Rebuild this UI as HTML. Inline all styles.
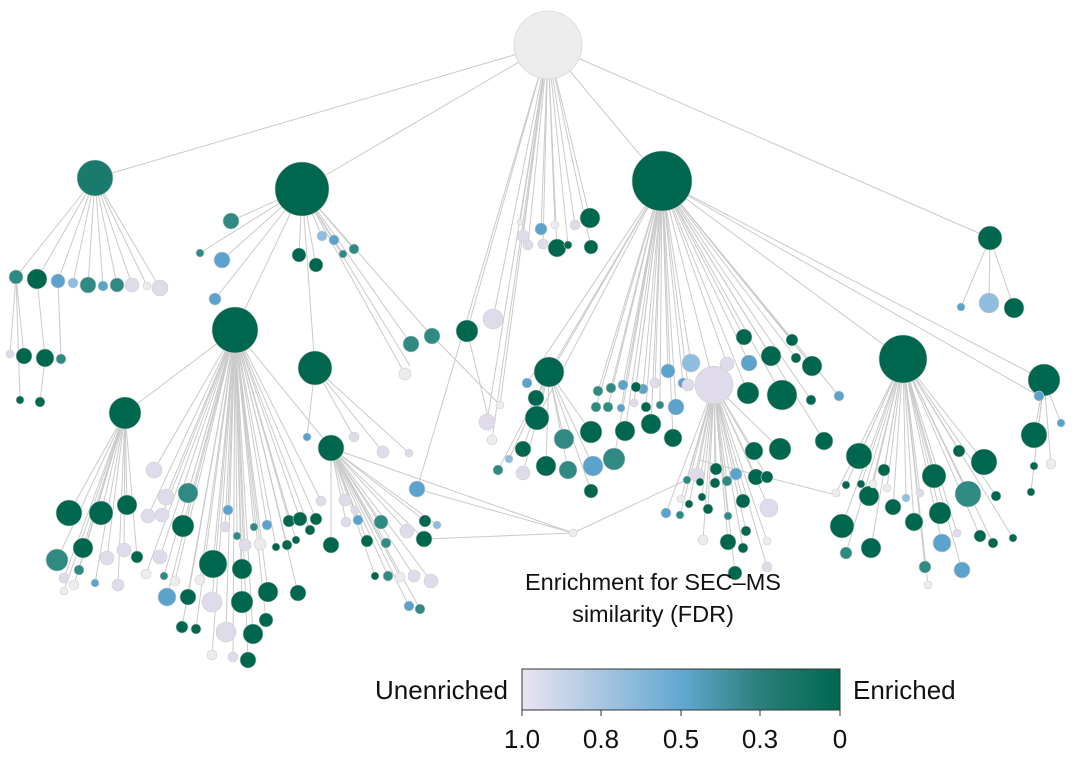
<!DOCTYPE html>
<html><head><meta charset="utf-8"><style>
html,body{margin:0;padding:0;background:#fff;}
svg{display:block;font-family:"Liberation Sans",Arial,sans-serif;}
</style></head><body>
<svg id="s" width="1080" height="762" viewBox="0 0 1080 762">
<defs>
<linearGradient id="g" x1="0" x2="1" y1="0" y2="0">
<stop offset="0" stop-color="#ebe4f1"/><stop offset="0.5" stop-color="#62a8d2"/><stop offset="0.75" stop-color="#2a7f7a"/><stop offset="1" stop-color="#00674f"/>
</linearGradient>
</defs>
<g id="e" stroke="#cacaca" stroke-width="1" fill="none"></g>
<g id="n" stroke="#cfcfcf" stroke-width="0.6"></g>
<text x="653" y="590" font-size="23.5" text-anchor="middle" fill="#111">Enrichment for SEC–MS</text>
<text x="653" y="622" font-size="23.5" text-anchor="middle" fill="#111">similarity (FDR)</text>
<rect x="522" y="669" width="318" height="41" fill="url(#g)" stroke="#333" stroke-width="1"/>
<text x="508" y="699" font-size="26" text-anchor="end" fill="#111">Unenriched</text>
<text x="853" y="699" font-size="26" fill="#111">Enriched</text>
<g stroke="#333"><line x1="522" y1="710" x2="522" y2="716"/><line x1="601" y1="710" x2="601" y2="716"/><line x1="681" y1="710" x2="681" y2="716"/><line x1="760" y1="710" x2="760" y2="716"/><line x1="840" y1="710" x2="840" y2="716"/></g>
<g font-size="26" text-anchor="middle" fill="#111"><text x="522" y="748">1.0</text><text x="601" y="748">0.8</text><text x="681" y="748">0.5</text><text x="760" y="748">0.3</text><text x="840" y="748">0</text></g>
</svg>
<script>
var C={D:"#00674f",M:"#1a7a6e",T:"#2f8a84",B:"#5ba3cc",P:"#8fbde0",L:"#e0dbea",G:"#ececec"};
var N=[];
function a(x,y,r,c,p){N.push([x,y,r,c,p]);return N.length-1;}
var R=a(548,45,34,"G",-1);
var h1=a(95,178,18,"M",R),h2=a(302,189,27,"D",R),h3=a(662,181,30,"D",R),h4=a(990,238,12,"D",R);
var h5=a(235,330,23,"D",h2),h6=a(315,368,17,"D",h2),h7=a(125,413,16,"D",h5),h8=a(903,359,24,"D",h3);
var h9=a(1044,380,16,"D",h3),h10=a(714,385,19,"L",h3),h11=a(549,372,15,"D",h3),h12=a(331,448,13,"D",h5);
var r1=[[16,277,7,"T"],[37,279,10,"D"],[58,281,7,"B"],[73,283,5,"P"],[88,285,8,"T"],[103,286,5,"B"],[117,285,7,"T"],[132,285,7,"L"],[147,286,4,"G"],[160,288,8,"L"]];
var ids=r1.map(function(v){return a(v[0],v[1],v[2],v[3],h1);});
a(10,354,4,"L",ids[0]);a(24,356,8,"D",ids[0]);var q=a(45,358,9,"D",ids[1]);a(61,359,5,"T",ids[2]);
a(20,400,4,"D",ids[0]);a(40,402,5,"D",q);
[[231,221,8,"T"],[222,260,8,"B"],[200,253,4,"T"],[215,299,6,"B"],[299,255,7,"D"],[316,265,7,"D"],[322,236,5,"P"],[334,240,5,"B"],[343,254,4,"T"],[354,249,5,"T"]].forEach(function(v){a(v[0],v[1],v[2],v[3],h2);});
[[590,218,10,"D"],[557,248,9,"D"],[591,247,7,"D"],[541,229,6,"B"],[523,236,6,"L"],[575,225,5,"L"],[528,245,5,"L"],[543,244,5,"L"],[568,245,4,"D"],[520,222,3,"G"],[555,225,4,"G"]].forEach(function(v){a(v[0],v[1],v[2],v[3],R);});
[[961,307,4,"B"],[989,303,10,"P"],[1014,308,10,"D"]].forEach(function(v){a(v[0],v[1],v[2],v[3],h4);});
a(411,344,8,"T",h2);a(432,336,8,"T",h2);a(467,331,11,"D",R);a(493,319,10,"L",R);a(405,374,6,"G",h2);
a(500,405,4,"G",R);a(487,422,8,"L",R);a(492,440,5,"G",R);a(383,452,6,"L",h6);a(409,453,4,"L",h6);a(354,437,5,"L",h6);a(307,437,4,"B",h6);
a(417,489,8,"B",R);a(573,533,4,"G",h12);a(410,366,0,"G",h2);
[[527,383,5,"B"],[536,398,8,"D"],[537,418,12,"D"],[523,449,8,"D"],[564,439,10,"T"],[591,432,11,"D"],[593,466,10,"B"],[614,459,11,"T"],[546,466,10,"D"],[568,470,9,"T"],[523,473,7,"L"],[498,470,5,"T"],[509,459,4,"P"],[591,491,7,"D"],[625,431,10,"D"],[651,424,10,"D"],[673,438,9,"D"],[676,407,8,"B"],[668,371,7,"B"],[691,363,9,"P"],[643,389,5,"B"],[598,391,5,"T"],[611,388,5,"T"],[623,385,5,"B"],[636,387,5,"D"],[608,407,5,"T"],[596,407,5,"T"],[621,408,4,"B"],[634,403,4,"L"],[646,407,5,"D"],[660,405,4,"T"],[655,383,5,"L"],[683,383,5,"B"],[688,385,6,"L"]].forEach(function(v){a(v[0],v[1],v[2],v[3],(v[1]>420&&v[0]<600)?h11:h3);});
[[744,337,8,"D"],[771,356,10,"D"],[792,340,6,"D"],[796,358,5,"D"],[812,366,10,"D"],[749,363,8,"B"],[727,364,7,"L"],[748,393,11,"D"],[782,395,15,"D"],[811,400,5,"D"],[839,396,5,"B"],[824,441,9,"D"],[754,451,9,"D"],[780,449,11,"D"],[756,477,8,"D"],[767,477,6,"D"],[736,474,6,"B"],[716,469,6,"D"],[697,475,7,"L"],[687,480,4,"T"],[700,482,4,"D"],[715,483,5,"D"],[727,481,5,"T"],[743,501,7,"D"],[769,508,9,"L"],[702,497,4,"D"],[689,504,4,"D"],[666,513,5,"B"],[708,509,5,"D"],[728,516,4,"T"],[746,531,5,"D"],[728,542,8,"D"],[703,540,5,"G"],[743,548,5,"D"],[767,541,4,"G"],[735,573,7,"D"],[767,567,5,"L"],[681,499,4,"G"],[680,515,4,"T"]].forEach(function(v){a(v[0],v[1],v[2],v[3],(v[1]>420&&v[0]<790)?h10:h3);});
[[859,456,13,"D"],[884,470,6,"D"],[934,476,12,"D"],[959,451,6,"D"],[984,462,13,"D"],[968,494,13,"T"],[996,496,5,"D"],[940,513,11,"D"],[914,522,9,"D"],[893,507,8,"D"],[869,496,10,"D"],[842,526,12,"D"],[871,548,10,"D"],[846,553,6,"T"],[942,543,9,"B"],[962,570,8,"B"],[925,567,6,"T"],[928,585,4,"G"],[980,536,6,"D"],[993,543,5,"D"],[1013,538,4,"D"],[957,533,4,"L"],[836,493,4,"G"],[846,485,4,"D"],[861,484,4,"D"],[873,484,4,"G"],[906,498,4,"P"],[920,493,4,"L"],[887,488,4,"G"]].forEach(function(v){a(v[0],v[1],v[2],v[3],h8);});
a(1039,396,5,"B",h3);a(1034,435,13,"D",h9);a(1061,423,4,"B",h9);a(1034,466,4,"D",h9);a(1051,464,5,"G",h9);a(1031,492,4,"D",h9);
[[69,513,13,"D"],[101,513,12,"D"],[127,505,10,"D"],[154,470,8,"L"],[166,497,8,"L"],[188,493,10,"T"],[148,516,7,"L"],[162,515,7,"L"],[183,526,11,"D"],[83,548,10,"D"],[57,560,11,"T"],[107,558,7,"L"],[124,550,7,"L"],[137,557,6,"D"],[160,557,7,"L"],[79,570,5,"T"],[95,583,4,"B"],[64,578,5,"L"],[74,585,5,"G"],[64,591,4,"G"],[118,585,6,"L"],[146,574,5,"G"],[164,576,4,"T"],[175,581,5,"G"],[213,564,14,"D"],[242,569,10,"D"],[228,510,5,"B"],[225,527,5,"L"],[237,536,4,"T"],[245,545,6,"L"],[260,544,6,"G"],[267,525,5,"B"],[254,527,4,"T"],[167,597,9,"B"],[188,597,8,"D"],[212,602,10,"L"],[242,602,11,"D"],[268,592,10,"D"],[298,593,8,"D"],[182,627,6,"D"],[196,629,5,"D"],[226,632,10,"L"],[253,634,10,"D"],[266,620,7,"D"],[212,655,5,"G"],[233,657,5,"L"],[248,660,8,"D"],[200,580,5,"G"],[276,547,4,"D"],[287,545,5,"D"],[289,521,6,"D"],[300,519,7,"D"],[316,519,6,"D"],[310,530,5,"D"],[296,540,4,"D"],[331,545,8,"D"],[346,522,5,"L"],[358,520,5,"B"],[367,541,6,"D"],[381,522,7,"T"],[386,543,5,"T"],[407,531,7,"L"],[425,521,6,"D"],[437,525,4,"P"],[424,539,8,"D"],[375,576,4,"D"],[388,576,5,"T"],[400,577,5,"G"],[414,576,6,"L"],[431,581,7,"L"],[409,606,5,"B"],[420,609,5,"T"],[345,500,6,"L"],[355,510,4,"L"],[321,501,5,"L"]].forEach(function(v){a(v[0],v[1],v[2],v[3],v[0]<140?h7:(v[0]>330?h12:h5));});
var ns="http://www.w3.org/2000/svg",E=document.getElementById("e"),G=document.getElementById("n");
N.forEach(function(v){if(v[4]>=0){var p=N[v[4]],l=document.createElementNS(ns,"line");l.setAttribute("x1",p[0]);l.setAttribute("y1",p[1]);l.setAttribute("x2",v[0]);l.setAttribute("y2",v[1]);E.appendChild(l);}});
[[417,489,573,533],[424,539,573,533],[573,533,697,475],[699,460,840,496],[432,336,500,405],[467,331,489,420]].forEach(function(k){var l=document.createElementNS(ns,"line");l.setAttribute("x1",k[0]);l.setAttribute("y1",k[1]);l.setAttribute("x2",k[2]);l.setAttribute("y2",k[3]);E.appendChild(l);});
N.forEach(function(v){if(v[2]<=0)return;var c=document.createElementNS(ns,"circle");c.setAttribute("cx",v[0]);c.setAttribute("cy",v[1]);c.setAttribute("r",v[2]);c.setAttribute("fill",C[v[3]]);G.appendChild(c);});
</script>
</body></html>
